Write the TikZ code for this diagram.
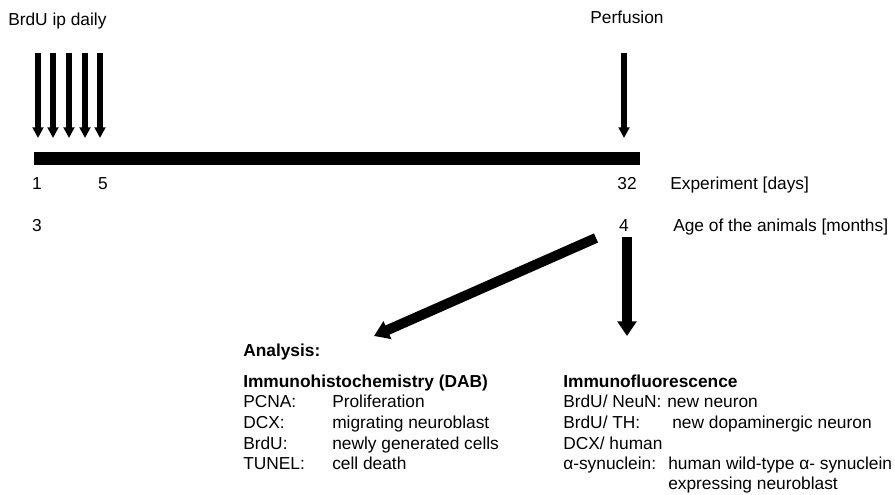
\documentclass[tikz,border=0pt]{standalone}
\usepackage{fontspec}
\setmainfont{Liberation Sans}
\usetikzlibrary{arrows.meta}

\begin{document}
\begin{tikzpicture}[x=0.75pt, y=-0.75pt,
    lbl/.style={anchor=base west, inner sep=0pt, font=\fontsize{13}{15}\selectfont},
    num/.style={anchor=base, inner sep=0pt, font=\fontsize{13}{15}\selectfont},
    head/.style={lbl, font=\fontsize{13}{15}\selectfont\bfseries},
    shot/.style={line width=5pt, -{Triangle[width=8pt,length=8pt]}},
    bigarrow/.style={line width=7.5pt, -{Triangle[width=14pt,length=11pt]}},
    timeline/.style={line width=10pt}]
    \useasboundingbox (0,0) rectangle (895,495);

    % Injections and perfusion
    \node[lbl] (brdu) at (8,26) {BrdU ip daily};
    \node[num] (perf) at (627,24) {Perfusion};
    \foreach \x [count=\i] in {38,53,69,85,100} {
        \coordinate (inj\i) at (\x,53);
        \coordinate (day\i) at (\x,138);
        \draw[shot] (inj\i) -- (day\i);
    }
    \coordinate (ptop) at (624,53);
    \coordinate (pend) at (624,138);
    \draw[shot] (ptop) -- (pend);

    % Time line
    \coordinate (tstart) at (34,158.5);
    \coordinate (tend) at (640,158.5);
    \draw[timeline] (tstart) -- (tend);

    % Days and age
    \node[num] (d1) at (37,190) {1};
    \node[num] (d5) at (103,190) {5};
    \node[num] (d32) at (627,190) {32};
    \node[lbl] (exp) at (670,190) {Experiment [days]};
    \node[num] (m3) at (37,232) {3};
    \node[num] (m4) at (624,232) {4};
    \node[lbl] (age) at (673,232) {Age of the animals [months]};

    % Arrows to the analysis
    \coordinate (split) at (596,238);
    \coordinate (ihc) at (374,336);
    \coordinate (iftop) at (627,237);
    \coordinate (if) at (627,336);
    \draw[bigarrow] (split) -- (ihc);
    \draw[bigarrow] (iftop) -- (if);

    % Analysis
    \node[head] (ana) at (243,356) {Analysis:};
    \node[head] (dab) at (243,387) {Immunohistochemistry (DAB)};
    \node[lbl] (pcna) at (243,407) {PCNA:};
    \node[lbl] (prolif) at (332,407) {Proliferation};
    \node[lbl] (dcx) at (243,428) {DCX:};
    \node[lbl] (migr) at (332,428) {migrating neuroblast};
    \node[lbl] (brdul) at (243,449) {BrdU:};
    \node[lbl] (newly) at (332,449) {newly generated cells};
    \node[lbl] (tunel) at (243,469) {TUNEL:};
    \node[lbl] (death) at (332,469) {cell death};

    \node[head] (fluo) at (563,387) {Immunofluorescence};
    \node[lbl] (neun) at (563,407) {BrdU/ NeuN:};
    \node[lbl] (newn) at (667,407) {new neuron};
    \node[lbl] (th) at (563,428) {BrdU/ TH:};
    \node[lbl] (dopa) at (672,428) {new dopaminergic neuron};
    \node[lbl] (dcxh) at (563,449) {DCX/ human};
    \node[lbl] (syn) at (563,469) {α-synuclein:};
    \node[lbl] (wild) at (668,469) {human wild-type α- synuclein};
    \node[lbl] (expr) at (668,489) {expressing neuroblast};
\end{tikzpicture}
\end{document}
